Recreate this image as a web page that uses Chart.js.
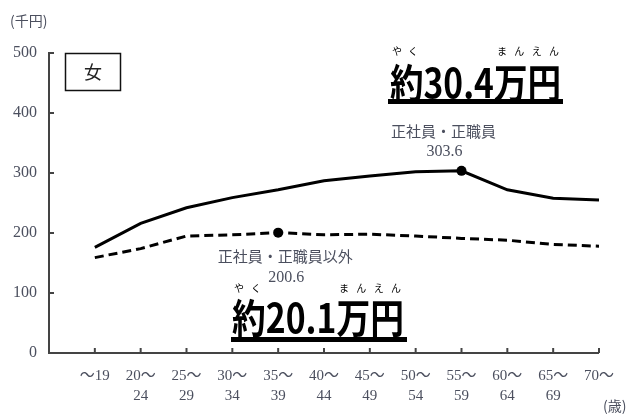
<!DOCTYPE html>
<html>
<head>
<meta charset="utf-8">
<script src="https://cdn.jsdelivr.net/npm/chart.js@4"></script>
<style>
  html, body { margin: 0; padding: 0; background: #fff; }
  #wrap { width: 627px; height: 414px; }
</style>
</head>
<body>
<div id="wrap"><canvas id="grafico" width="627" height="414"></canvas></div>
<script>
// datos (mujeres, miles de yenes)
const edades = [
  ["～19"], ["20～", "24"], ["25～", "29"], ["30～", "34"], ["35～", "39"],
  ["40～", "44"], ["45～", "49"], ["50～", "54"], ["55～", "59"],
  ["60～", "64"], ["65～", "69"], ["70～"]
];
const seishain = [176, 216, 242, 259, 272, 287, 295, 302, 303.6, 272, 258, 255];
const hiSeishain = [159, 174, 195, 197, 200.6, 197, 198, 195, 191, 188, 181, 178];
const yTicks = [0, 100, 200, 300, 400, 500];
const idxPicoSeishain = 8;
const idxPicoOtros = 4;

const colorTexto = "#4b4f5e";

// primera categoria vacia = esquina del eje
const etiquetas = [[""]].concat(edades);
const conHueco = (arr) => [null].concat(arr);

function espaciado(ctx, txt, x0, x1, y) {
  const chars = Array.from(txt);
  const paso = chars.length > 1 ? (x1 - x0) / (chars.length - 1) : 0;
  chars.forEach((c, i) => ctx.fillText(c, x0 + paso * i, y));
}

function textoGrande(ctx, txt, izq, der, base, px) {
  ctx.save();
  ctx.font = `bold ${px}px "Noto Sans CJK JP"`;
  ctx.textAlign = "left";
  ctx.textBaseline = "alphabetic";
  const w = ctx.measureText(txt).width;
  ctx.translate(izq, base);
  ctx.scale((der - izq) / w, 1);
  ctx.fillStyle = "#000";
  ctx.fillText(txt, 0, 0);
  ctx.restore();
}

const marcasInternas = {
  id: "marcasInternas",
  beforeDatasetsDraw(chart) {
    const { ctx, chartArea, scales } = chart;
    ctx.save();
    ctx.strokeStyle = "#444";
    ctx.lineWidth = 2;
    yTicks.forEach((v) => {
      const y = scales.y.getPixelForValue(v);
      ctx.beginPath();
      ctx.moveTo(chartArea.left, y);
      ctx.lineTo(chartArea.left + 5, y);
      ctx.stroke();
    });
    for (let i = 1; i < etiquetas.length; i++) {
      const x = scales.x.getPixelForValue(i);
      ctx.beginPath();
      ctx.moveTo(x, chartArea.bottom);
      ctx.lineTo(x, chartArea.bottom - 5);
      ctx.stroke();
    }
    ctx.restore();
  },
};

const anotaciones = {
  id: "anotaciones",
  afterDraw(chart) {
    const { ctx, scales } = chart;
    ctx.save();

    // unidades
    ctx.fillStyle = colorTexto;
    ctx.font = '14px "Noto Sans CJK JP"';
    ctx.textBaseline = "middle";
    ctx.textAlign = "left";
    ctx.fillText("(千円)", 10, 21);
    ctx.fillText("(歳)", 603, 406);

    // caja 女
    ctx.strokeStyle = "#111";
    ctx.lineWidth = 1.5;
    ctx.strokeRect(65.5, 53.5, 55, 37);
    ctx.fillStyle = "#222";
    ctx.font = '18px "Noto Sans CJK JP"';
    ctx.textAlign = "center";
    ctx.fillText("女", 93, 72);

    // etiquetas de los picos
    const xP = scales.x.getPixelForValue(idxPicoSeishain + 1);
    const yP = scales.y.getPixelForValue(seishain[idxPicoSeishain]);
    const xO = scales.x.getPixelForValue(idxPicoOtros + 1);
    const yO = scales.y.getPixelForValue(hiSeishain[idxPicoOtros]);
    ctx.fillStyle = colorTexto;
    ctx.font = '15px "Noto Sans CJK JP"';
    ctx.fillText("正社員・正職員", xP - 18, yP - 40);
    ctx.fillText("正社員・正職員以外", xO + 7, yO + 24);
    ctx.font = '16px "Liberation Serif"';
    ctx.fillText(seishain[idxPicoSeishain].toFixed(1), xP - 17, yP - 19);
    ctx.fillText(hiSeishain[idxPicoOtros].toFixed(1), xO + 8, yO + 45);

    // resaltados grandes
    textoGrande(ctx, "約30.4万円", 390, 561, 98, 40);
    ctx.fillStyle = "#000";
    ctx.fillRect(388, 99, 175, 5);
    textoGrande(ctx, "約20.1万円", 232, 404, 333, 40);
    ctx.fillRect(231, 337, 176, 5);

    ctx.font = '10px "Noto Sans CJK JP"';
    ctx.textAlign = "center";
    ctx.fillStyle = "#000";
    espaciado(ctx, "やく", 397, 413, 51);
    espaciado(ctx, "まんえん", 502, 554, 51);
    espaciado(ctx, "やく", 239, 256, 288);
    espaciado(ctx, "まんえん", 344, 396, 288);

    ctx.restore();
  },
};

new Chart(document.getElementById("grafico").getContext("2d"), {
  type: "line",
  data: {
    labels: etiquetas,
    datasets: [
      {
        label: "正社員・正職員",
        data: conHueco(seishain),
        borderColor: "#000",
        backgroundColor: "#000",
        borderWidth: 3,
        tension: 0,
        pointRadius: (c) => (c.dataIndex === idxPicoSeishain + 1 ? 5 : 0),
        pointBorderWidth: 0,
        pointBackgroundColor: "#000",
      },
      {
        label: "正社員・正職員以外",
        data: conHueco(hiSeishain),
        borderColor: "#000",
        backgroundColor: "#000",
        borderWidth: 3,
        borderDash: [9, 5],
        tension: 0,
        pointRadius: (c) => (c.dataIndex === idxPicoOtros + 1 ? 5 : 0),
        pointBorderWidth: 0,
        pointBackgroundColor: "#000",
      },
    ],
  },
  options: {
    responsive: false,
    animation: false,
    events: [],
    layout: { padding: { left: 0, right: 26, top: 53, bottom: 0 } },
    plugins: {
      legend: { display: false },
      tooltip: { enabled: false },
    },
    scales: {
      x: {
        offset: false,
        grid: { display: false, drawTicks: false },
        border: { display: true, color: "#444", width: 2 },
        ticks: {
          autoSkip: false,
          maxRotation: 0,
          padding: 13,
          color: colorTexto,
          font: { family: '"Liberation Serif", "Noto Sans CJK JP"', size: 15, lineHeight: 1.33 },
        },
        afterFit: (s) => { s.height = 61; },
      },
      y: {
        min: 0,
        max: 500,
        afterBuildTicks: (s) => { s.ticks = yTicks.map((v) => ({ value: v })); },
        grid: { display: false, drawTicks: false },
        border: { display: true, color: "#444", width: 2 },
        ticks: {
          padding: 12,
          color: colorTexto,
          font: { family: '"Liberation Serif"', size: 16 },
        },
        afterFit: (s) => { s.width = 49; },
      },
    },
  },
  plugins: [marcasInternas, anotaciones],
});
</script>
</body>
</html>
